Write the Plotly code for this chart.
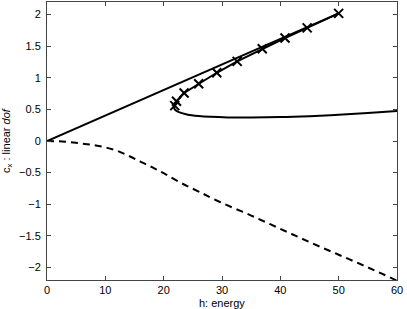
import plotly.graph_objects as go

# straight line
line_x = [0, 50]
line_y = [0, 2.02]

# crossed branch
cross_x = [21.9, 22.2, 23.5, 26.0, 29.1, 32.6, 36.9, 40.8, 44.6, 50.0]
cross_y = [0.56, 0.63, 0.76, 0.905, 1.08, 1.26, 1.46, 1.63, 1.79, 2.02]

# lower branch
low_x = [21.9, 21.8, 22.0, 22.5, 24, 26, 28, 31, 35, 40, 45, 50, 55, 60]
low_y = [0.56, 0.52, 0.49, 0.46, 0.42, 0.395, 0.382, 0.373, 0.372, 0.378, 0.393, 0.414, 0.443, 0.476]

# dashed curve
dash_x = [0, 2, 4, 6, 8, 10, 12, 14, 16, 18, 20, 22.7, 26, 30, 35, 40, 45, 50, 55, 60]
dash_y = [0, -0.005, -0.02, -0.04, -0.065, -0.1, -0.155, -0.235, -0.325, -0.415, -0.51, -0.65, -0.8, -0.98, -1.18, -1.39, -1.6, -1.8, -2.0, -2.21]

x_ticks = [0, 10, 20, 30, 40, 50, 60]
y_ticks = [-2, -1.5, -1, -0.5, 0, 0.5, 1, 1.5, 2]

fig = go.Figure()
fig.add_trace(go.Scatter(x=line_x, y=line_y, mode="lines", line=dict(color="black", width=2)))
fig.add_trace(go.Scatter(x=low_x, y=low_y, mode="lines", line=dict(color="black", width=2, shape="spline")))
fig.add_trace(go.Scatter(x=cross_x, y=cross_y, mode="lines+markers", line=dict(color="black", width=2),
                         marker=dict(symbol="x-thin-open", size=9, line=dict(color="black", width=2))))
fig.add_trace(go.Scatter(x=dash_x, y=dash_y, mode="lines", line=dict(color="black", width=2, dash="7px,5px", shape="spline")))

font = dict(family="Liberation Sans, Arial", size=11, color="black")
axis_common = dict(showgrid=False, zeroline=False, showline=True, linecolor="#444", linewidth=1,
                   mirror="ticks", ticks="inside", ticklen=4, tickcolor="#444", tickfont=font)
fig.update_xaxes(range=[0, 60], tickvals=x_ticks, ticklabelstandoff=0, **axis_common)
fig.update_yaxes(range=[-2.2, 2.2], tickvals=y_ticks, ticklabelstandoff=3,
                 title=dict(text="c<sub>x</sub> : linear <i>dof</i>", standoff=6, font=font), **axis_common)

fig.add_annotation(text="h: energy", xref="paper", yref="paper", x=0.5, y=-0.082,
                   xanchor="center", yanchor="middle", showarrow=False, font=font)

fig.update_layout(width=407, height=309, showlegend=False, plot_bgcolor="white", paper_bgcolor="white",
                  margin=dict(l=47, r=10, t=2, b=29))
fig.write_html("out.html", config={"displayModeBar": False}, post_script="document.body.style.margin='0';")
